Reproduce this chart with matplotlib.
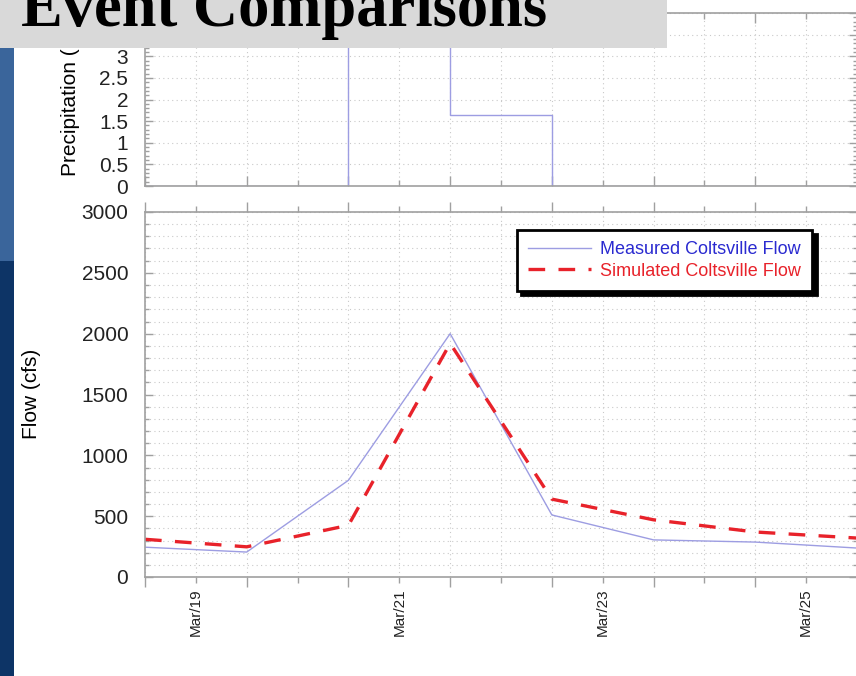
import numpy as np
import matplotlib.pyplot as plt
import matplotlib.dates as mdates
from matplotlib.patches import Rectangle
from matplotlib.ticker import MultipleLocator, FuncFormatter
from datetime import datetime

plt.rcParams['font.family'] = ['Liberation Sans', 'DejaVu Sans']

W, H = 856, 676

# daily values, recorded at noon
times = ["2003-03-18 12:00", "2003-03-19 12:00", "2003-03-20 12:00", "2003-03-21 12:00",
         "2003-03-22 12:00", "2003-03-23 12:00", "2003-03-24 12:00", "2003-03-25 12:00"]
measured_flow = [245, 205, 795, 2000, 510, 305, 287, 238]
simulated_flow = [310, 248, 425, 1920, 640, 470, 370, 320]
precip = [0, 0, 4.6, 1.65, 0, 0, 0, 0]

t = mdates.date2num([datetime.strptime(s, "%Y-%m-%d %H:%M") for s in times])

SPINE = '#a0a0a0'
GRID = '#c9c9c9'
MEAS = '#9d9de2'
SIM = '#e8222a'


def px(x0, y0, x1, y1):
    # pixel box (left, top, right, bottom) -> figure fraction rect
    return [x0 / W, 1 - y1 / H, (x1 - x0) / W, (y1 - y0) / H]


fig = plt.figure(figsize=(W / 100, H / 100), dpi=100)
ax_p = fig.add_axes(px(145, 13, 857, 186))
ax_f = fig.add_axes(px(145, 212, 857, 577))

for ax in (ax_p, ax_f):
    for s in ax.spines.values():
        s.set_color(SPINE)
        s.set_linewidth(1.2)
    ax.set_xlim(t[0], t[-1])
    ax.xaxis.set_major_locator(mdates.DayLocator())
    ax.xaxis.set_minor_locator(mdates.HourLocator(byhour=12))
    ax.grid(True, which='both', color=GRID, linestyle=(0, (1, 3)), linewidth=0.8)
    ax.set_axisbelow(True)
    ax.tick_params(which='both', colors=SPINE, labelcolor='#222222', width=1)

# ----- precipitation -----
ax_p.step(t, precip, where='post', color=MEAS, linewidth=1.0)
ax_p.set_ylim(0, 4)
ax_p.yaxis.set_major_locator(MultipleLocator(0.5))
ax_p.yaxis.set_minor_locator(MultipleLocator(0.1))
ax_p.yaxis.set_major_formatter(FuncFormatter(lambda v, p: '%g' % v))
ax_p.tick_params(axis='y', which='both', direction='in', right=True, labelsize=15, pad=12)
ax_p.tick_params(axis='y', which='major', length=6)
ax_p.tick_params(axis='y', which='minor', length=3)
ax_p.tick_params(axis='x', which='both', direction='in', top=True, labelbottom=False)
ax_p.tick_params(axis='x', which='major', length=4)
ax_p.tick_params(axis='x', which='minor', length=7)
ax_p.grid(False, axis='y', which='minor')
ax_p.set_ylabel('Precipitation (in)', fontsize=15)
ax_p.yaxis.set_label_coords(80 / W, (H - 100) / H, transform=fig.transFigure)

# ----- flow -----
ax_f.plot(t, measured_flow, color=MEAS, linewidth=1.0, label='Measured Coltsville Flow')
ax_f.plot(t, simulated_flow, color=SIM, linewidth=2.4, linestyle=(0, (5, 4)),
          label='Simulated Coltsville Flow')
ax_f.set_ylim(0, 3000)
ax_f.yaxis.set_major_locator(MultipleLocator(500))
ax_f.yaxis.set_minor_locator(MultipleLocator(100))
ax_f.tick_params(axis='y', which='both', direction='in', right=True, labelsize=15, pad=12)
ax_f.tick_params(axis='y', which='major', length=6)
ax_f.tick_params(axis='y', which='minor', length=3)
ax_f.tick_params(axis='x', which='both', direction='out', top=True)
ax_f.tick_params(axis='x', which='major', length=4, labelsize=11, pad=4, labelrotation=90)
ax_f.tick_params(axis='x', which='minor', length=7)
ax_f.xaxis.set_major_formatter(FuncFormatter(
    lambda v, p: mdates.num2date(v).strftime('%b/%d') if mdates.num2date(v).day % 2 else ''))
ax_f.set_ylabel('Flow (cfs)', fontsize=15)
ax_f.yaxis.set_label_coords(41 / W, (H - 394) / H, transform=fig.transFigure)

leg = ax_f.legend(loc='upper left', bbox_to_anchor=(517 / W, 1 - 230 / H),
                  bbox_transform=fig.transFigure, borderaxespad=0, fontsize=13,
                  fancybox=False, frameon=True, edgecolor='black', framealpha=1,
                  shadow={'color': 'black', 'alpha': 1, 'ox': 3, 'oy': -3},
                  handlelength=3.5, handletextpad=0.5, labelspacing=0.25,
                  borderpad=0.62)
leg.get_frame().set_linewidth(2)
for txt, c in zip(leg.get_texts(), ['#2a2ad0', SIM]):
    txt.set_color(c)

# slide decoration: side bar and title banner
fig.add_artist(Rectangle((0, 1 - 261 / H), 14 / W, 261 / H, transform=fig.transFigure,
                         facecolor='#3a659b', edgecolor='none', zorder=10))
fig.add_artist(Rectangle((0, 0), 14 / W, 1 - 261 / H, transform=fig.transFigure,
                         facecolor='#0d3466', edgecolor='none', zorder=10))
fig.add_artist(Rectangle((0, 1 - 48 / H), 667 / W, 48 / H, transform=fig.transFigure,
                         facecolor='#d9d9d9', edgecolor='none', zorder=11))
fig.text(21 / W, 1 - 26 / H, 'Event Comparisons', fontsize=45, family='Liberation Serif',
         weight='bold', va='baseline', ha='left', color='black', zorder=12)

fig.savefig('out.png', dpi=100)
